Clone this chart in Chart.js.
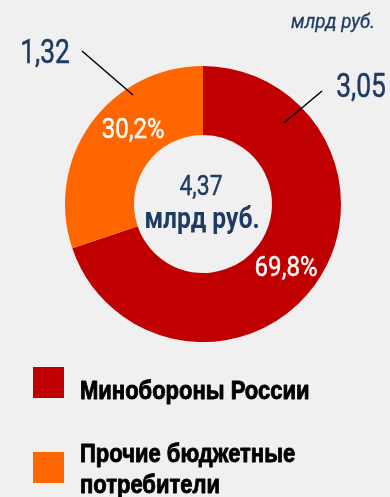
<!DOCTYPE html>
<html>
<head>
<meta charset="utf-8">
<script src="https://cdn.jsdelivr.net/npm/chart.js@4/dist/chart.umd.min.js"></script>
<style>
  html, body { margin: 0; padding: 0; background: #f0f0f0; }
  canvas { display: block; }
</style>
</head>
<body>
<canvas id="budget" width="390" height="497"></canvas>
<script>
const categories = ['Минобороны России', 'Прочие бюджетные потребители'];
const legendLines = [['Минобороны России'], ['Прочие бюджетные', 'потребители']];
const values = [3.05, 1.32];
const colors = ['#c00000', '#ff6600'];
const unitLabel = 'млрд руб.';

const navy = '#1f3b63';
const fmt = (v, d) => v.toFixed(d).replace('.', ',');
const total = values.reduce((a, b) => a + b, 0);

// squeezed text, the slides use a condensed face
function txt(ctx, s, x, y, font, color, sx, align, thick) {
  ctx.save();
  ctx.font = font;
  ctx.fillStyle = color;
  ctx.textAlign = align || 'center';
  ctx.textBaseline = 'alphabetic';
  ctx.translate(x, y);
  ctx.scale(sx, 1);
  ctx.fillText(s, 0, 0);
  if (thick) {
    ctx.strokeStyle = color;
    ctx.lineWidth = thick;
    ctx.lineJoin = 'round';
    ctx.strokeText(s, 0, 0);
  }
  ctx.restore();
}

// value callouts: label offset from centre, leader line start/end (relative to centre)
const callouts = [
  { text: fmt(values[0], 2), dx: 158, dy: -107, line: [119, -113, 81, -81] },
  { text: fmt(values[1], 2), dx: -158, dy: -141, line: [-121, -153, -70, -109] }
];
// small angular nudge (deg) for the percent labels inside the ring
const pctNudge = [1, 12];

const overlay = {
  id: 'overlay',
  afterDraw(chart) {
    const ctx = chart.ctx;
    const arcs = chart.getDatasetMeta(0).data;
    const cx = arcs[0].x, cy = arcs[0].y;
    const inner = arcs[0].innerRadius, outer = arcs[0].outerRadius;

    // percentages on the ring
    arcs.forEach((a, i) => {
      const mid = (a.startAngle + a.endAngle) / 2 + pctNudge[i] * Math.PI / 180;
      const r = (inner + outer) / 2;
      const x = cx + Math.cos(mid) * r;
      const y = cy + Math.sin(mid) * r;
      txt(ctx, fmt(values[i] / total * 100, 1) + '%', x, y + 10, '28px Roboto', '#ffffff', 0.86, 'center', 0.4);
    });

    // centre total
    txt(ctx, fmt(total, 2), cx - 2, cy - 9, '28px Roboto', navy, 0.82, 'center', 0.4);
    txt(ctx, unitLabel, cx - 1, cy + 24, 'bold 30px Roboto', navy, 0.82);

    // callouts with leader lines
    ctx.save();
    ctx.strokeStyle = '#000000';
    ctx.lineWidth = 1.5;
    callouts.forEach(c => {
      ctx.beginPath();
      ctx.moveTo(cx + c.line[0], cy + c.line[1]);
      ctx.lineTo(cx + c.line[2], cy + c.line[3]);
      ctx.stroke();
      txt(ctx, c.text, cx + c.dx, cy + c.dy, '33px Roboto', navy, 0.8, 'center', 0.5);
    });
    ctx.restore();

    // units note
    txt(ctx, unitLabel, 375, 28, 'italic 21px Roboto', navy, 0.9, 'right', 0.3);

    // legend
    const rows = [367, 452];
    categories.forEach((c, i) => {
      ctx.fillStyle = colors[i];
      ctx.fillRect(33, rows[i], 31, 31);
      const lines = legendLines[i];
      const base = lines.length === 1 ? rows[i] + 32 : rows[i] + 10;
      lines.forEach((l, k) => {
        txt(ctx, l, 80, base + k * 31, 'bold 25px "Liberation Sans", Arial, sans-serif', '#000000', 0.88, 'left', 0.9);
      });
    });
  }
};

new Chart(document.getElementById('budget'), {
  type: 'doughnut',
  data: {
    labels: categories,
    datasets: [{
      data: values,
      backgroundColor: colors,
      borderWidth: 0,
      hoverOffset: 0
    }]
  },
  options: {
    responsive: false,
    animation: false,
    cutout: '50%',
    events: [],
    layout: { padding: { left: 65, right: 49, top: 66, bottom: 155 } },
    plugins: {
      legend: { display: false },
      tooltip: { enabled: false }
    }
  },
  plugins: [overlay]
});
</script>
</body>
</html>
